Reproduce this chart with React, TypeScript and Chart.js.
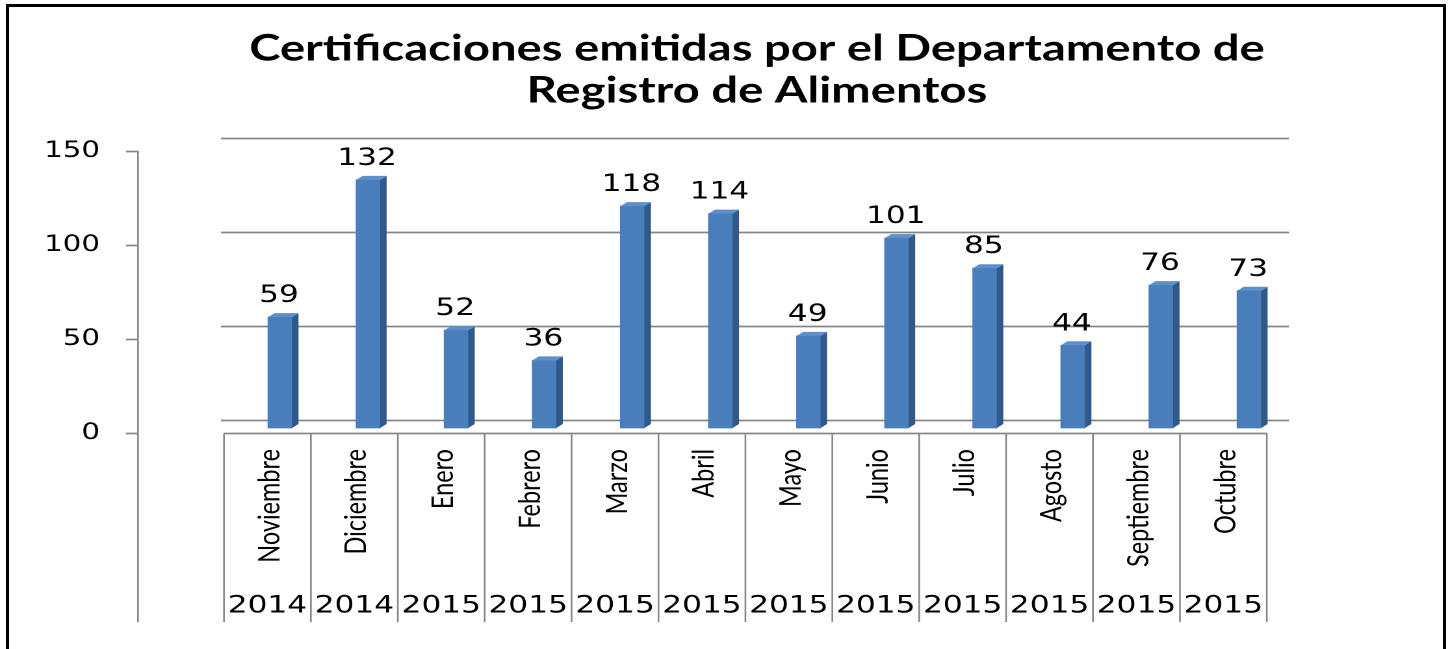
import React, { useEffect, useRef } from 'react';
import { Chart, registerables } from 'chart.js';

Chart.register(...registerables);

// ---------- data ----------
const TITLE_LINES = ['Certificaciones emitidas por el Departamento de', 'Registro de Alimentos'];
const MONTHS = ['Noviembre', 'Diciembre', 'Enero', 'Febrero', 'Marzo', 'Abril', 'Mayo', 'Junio', 'Julio', 'Agosto', 'Septiembre', 'Octubre'];
const YEARS = ['2014', '2014', '2015', '2015', '2015', '2015', '2015', '2015', '2015', '2015', '2015', '2015'];
const VALUES = [59, 132, 52, 36, 118, 114, 49, 101, 85, 44, 76, 73];
const Y_MIN = 0;
const Y_MAX = 150;
const Y_STEP = 50;

// ---------- page / stretch ----------
const PAGE_W = 1448;
const PAGE_H = 649;
const STRETCH = 1.3; // the reference picture is stretched horizontally
const LW = Math.round(PAGE_W / STRETCH);
const SX = PAGE_W / LW;
const rx = (v: number) => v / SX; // page x -> logical canvas x

// layout (page pixels)
const AREA_LEFT = 224;
const AREA_RIGHT = 1290;
const AREA_TOP = 151;
const AREA_BOTTOM = 433;
const MONTH_H = 158;
const YEAR_H = 31;
const PAD_BOTTOM = PAGE_H - AREA_BOTTOM - MONTH_H - YEAR_H;
const CAT_W = 86.9; // front category width
const BAR_STEP = 88.1; // bar spacing (back plane)
const BAR_FIRST = 280; // first bar centre
const BAR_W = 24;
const DEPTH_X = 6.5;
const DEPTH_Y = 4;
const BAR_SHIFT_Y = 5; // bars sit 5px above the front axis
const WALL_SHIFT_Y = 13; // back wall grid above the front axis

const FRONT = '#4a7ebb';
const SIDE = '#30598a';
const TOP = '#5f8fcb';
const GRID = '#878787';

const AREA_W = AREA_RIGHT - AREA_LEFT;
const PX_PER_UNIT = (AREA_BOTTOM - AREA_TOP) / (Y_MAX - Y_MIN);
const CAT_MIN = -0.5;
const CAT_MAX = CAT_MIN + AREA_W / CAT_W;
const XB_MIN = -(BAR_FIRST - AREA_LEFT) / BAR_STEP;
const XB_MAX = XB_MIN + AREA_W / BAR_STEP;
const YB_MIN = -BAR_SHIFT_Y / PX_PER_UNIT;
const YB_MAX = YB_MIN + (Y_MAX - Y_MIN);

const framePlugin = {
  id: 'frame3d',
  beforeDatasetsDraw(chart: any) {
    const { ctx, scales } = chart;
    const yA = scales.yA;
    const x = scales.x;
    const x2 = scales.x2;
    ctx.save();
    ctx.strokeStyle = GRID;
    // back wall grid lines
    ctx.lineWidth = 1.7;
    for (const t of yA.ticks) {
      const py = Math.round(yA.getPixelForValue(t.value) - WALL_SHIFT_Y) + 0.5;
      ctx.beginPath();
      ctx.moveTo(rx(AREA_LEFT - 3), py);
      ctx.lineTo(rx(AREA_RIGHT - 1), py);
      ctx.stroke();
    }
    // front floor line
    const y0 = Math.round(yA.getPixelForValue(0)) + 0.5;
    ctx.beginPath();
    ctx.moveTo(x.getPixelForValue(-0.5), y0);
    ctx.lineTo(x.getPixelForValue(MONTHS.length - 0.5), y0);
    ctx.stroke();
    // category separators
    ctx.lineWidth = 1.7 / SX;
    for (let i = 0; i <= MONTHS.length; i++) {
      const px = x.getPixelForValue(i - 0.5);
      ctx.beginPath();
      ctx.moveTo(px, y0);
      ctx.lineTo(px, x2.bottom);
      ctx.stroke();
    }
    // value axis line + tick marks
    const ax = rx(138);
    ctx.beginPath();
    ctx.moveTo(ax, yA.getPixelForValue(Y_MAX));
    ctx.lineTo(ax, x2.bottom);
    ctx.stroke();
    ctx.lineWidth = 1.7;
    for (const t of yA.ticks) {
      const py = Math.round(yA.getPixelForValue(t.value)) + 0.5;
      ctx.beginPath();
      ctx.moveTo(rx(126), py);
      ctx.lineTo(ax, py);
      ctx.stroke();
    }
    ctx.restore();
  },
  afterDatasetsDraw(chart: any) {
    const { ctx } = chart;
    const meta = chart.getDatasetMeta(0);
    const data = chart.data.datasets[0].data as any[];
    const dx = rx(DEPTH_X);
    const dy = DEPTH_Y;
    ctx.save();
    meta.data.forEach((bar: any, i: number) => {
      const { x, y, base, width } = bar.getProps(['x', 'y', 'base', 'width'], true);
      const l = x - width / 2;
      const r = x + width / 2;
      ctx.fillStyle = SIDE;
      ctx.beginPath();
      ctx.moveTo(r, y);
      ctx.lineTo(r + dx, y - dy);
      ctx.lineTo(r + dx, base - dy);
      ctx.lineTo(r, base);
      ctx.closePath();
      ctx.fill();
      ctx.fillStyle = TOP;
      ctx.beginPath();
      ctx.moveTo(l, y);
      ctx.lineTo(l + dx, y - dy);
      ctx.lineTo(r + dx, y - dy);
      ctx.lineTo(r, y);
      ctx.closePath();
      ctx.fill();
      ctx.fillStyle = '#000';
      ctx.font = '24px "DejaVu Sans"';
      ctx.textAlign = 'center';
      ctx.textBaseline = 'alphabetic';
      ctx.fillText(String(data[i].y), x - rx(1), y - 15);
    });
    ctx.restore();
  },
};

export default function App() {
  const ref = useRef<HTMLCanvasElement>(null);

  useEffect(() => {
    const canvas = ref.current;
    if (!canvas) return;
    const chart = new Chart(canvas, {
      type: 'bar',
      data: {
        datasets: [
          {
            data: VALUES.map((v, i) => ({ x: i, y: v })),
            xAxisID: 'xb',
            yAxisID: 'y',
            backgroundColor: FRONT,
            borderWidth: 0,
            barThickness: rx(BAR_W),
          },
        ],
      },
      options: {
        responsive: false,
        animation: false,
        devicePixelRatio: 2,
        events: [],
        layout: { padding: { top: 0, left: 0, right: rx(PAGE_W - AREA_RIGHT), bottom: PAD_BOTTOM } },
        plugins: {
          legend: { display: false },
          tooltip: { enabled: false },
          title: {
            display: true,
            text: TITLE_LINES,
            fullSize: false,
            color: '#000',
            font: { family: 'Lato', weight: 'bold', size: 36.3, lineHeight: 42 / 36.3 },
            padding: { top: 28, bottom: AREA_TOP - 28 - 2 * 42 },
          },
        },
        scales: {
          yA: {
            type: 'linear',
            position: 'left',
            min: Y_MIN,
            max: Y_MAX,
            grid: { display: false, drawTicks: false },
            border: { display: false },
            ticks: {
              stepSize: Y_STEP,
              color: '#000',
              font: { family: 'DejaVu Sans', size: 22.5 },
              padding: rx(AREA_LEFT - 100),
            },
            afterFit: (s: any) => {
              s.width = rx(AREA_LEFT);
            },
          },
          y: {
            type: 'linear',
            display: false,
            min: YB_MIN,
            max: YB_MAX,
          },
          xb: {
            type: 'linear',
            position: 'bottom',
            display: false,
            offset: false,
            min: XB_MIN,
            max: XB_MAX,
          },
          x: {
            type: 'linear',
            position: 'bottom',
            weight: 0,
            offset: false,
            min: CAT_MIN,
            max: CAT_MAX,
            grid: { display: false, drawTicks: false, offset: false },
            border: { display: false },
            ticks: {
              stepSize: 1,
              includeBounds: false,
              autoSkip: false,
              minRotation: 90,
              maxRotation: 90,
              padding: 16,
              labelOffset: rx(2),
              color: '#000',
              font: { family: 'Lato', size: 23.5 },
              callback: (v: any) => MONTHS[v as number] ?? '',
            },
            afterFit: (s: any) => {
              s.height = MONTH_H;
            },
          },
          x2: {
            type: 'linear',
            position: 'bottom',
            weight: 1,
            offset: false,
            min: CAT_MIN,
            max: CAT_MAX,
            grid: { display: false, drawTicks: false, offset: false },
            border: { display: false },
            ticks: {
              stepSize: 1,
              includeBounds: false,
              autoSkip: false,
              minRotation: 0,
              maxRotation: 0,
              padding: 1,
              color: '#000',
              font: { family: 'DejaVu Sans', size: 24 },
              callback: (v: any) => YEARS[v as number] ?? '',
            },
            afterFit: (s: any) => {
              s.height = YEAR_H;
            },
          },
        },
      } as any,
      plugins: [framePlugin],
    });
    return () => chart.destroy();
  }, []);

  return (
    <div
      style={{
        position: 'fixed',
        left: 0,
        top: 0,
        width: PAGE_W,
        height: PAGE_H,
        overflow: 'hidden',
        background: '#fff',
      }}
    >
      <canvas
        ref={ref}
        width={LW}
        height={PAGE_H}
        style={{ position: 'absolute', left: 0, top: 0, width: `${PAGE_W}px`, height: `${PAGE_H}px`, display: 'block' }}
      />
      <div
        style={{
          position: 'absolute',
          left: 6,
          top: 4,
          width: 1434,
          height: 700,
          borderLeft: '3px solid #000',
          borderTop: '3px solid #000',
          borderRight: '3px solid #000',
          boxSizing: 'content-box',
        }}
      />
    </div>
  );
}
